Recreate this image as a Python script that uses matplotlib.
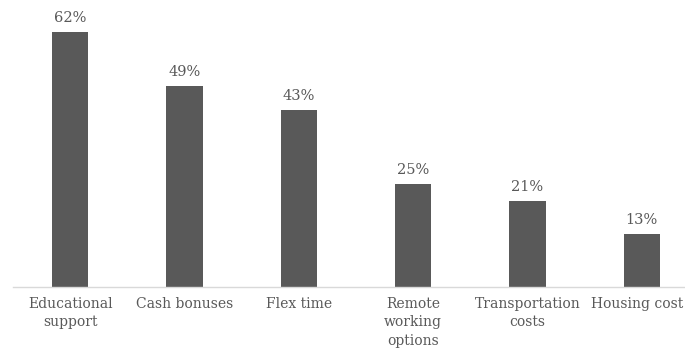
import matplotlib.pyplot as plt
import matplotlib.transforms as mtransforms

categories = ['Educational\nsupport', 'Cash bonuses', 'Flex time',
              'Remote\nworking\noptions', 'Transportation\ncosts', 'Housing cost']
values = [62, 49, 43, 25, 21, 13]

bar_color = '#595959'
text_color = '#595959'

plt.rcParams['font.family'] = ['DejaVu Serif']

fig = plt.figure(figsize=(6.85, 3.53), dpi=100)
# axes runs a little past the right edge, as in the reference
ax = fig.add_axes([13 / 685, 1 - 287 / 353, 686 / 685, 69 * 4.11 / 353])

x = range(len(categories))
bars = ax.bar(x, values, width=0.315, color=bar_color)

for b, v in zip(bars, values):
    ax.annotate(f'{v}%', (b.get_x() + b.get_width() / 2, v),
                xytext=(0, 5), textcoords='offset points',
                ha='center', va='bottom', fontsize=10.5, color=text_color)

ax.set_xlim(-0.5, len(categories) - 0.5)
ax.set_ylim(0, 69)
ax.set_xticks(list(x))
ax.set_xticklabels(categories, fontsize=10, color=text_color, linespacing=1.4)
ax.tick_params(axis='x', length=0, pad=7)
ax.set_yticks([])

# last label sits a bit left so it stays inside the picture
last = ax.get_xticklabels()[-1]
last.set_transform(last.get_transform() + mtransforms.ScaledTranslation(-5 / 100, 0, fig.dpi_scale_trans))

for s in ['top', 'right', 'left']:
    ax.spines[s].set_visible(False)
ax.spines['bottom'].set_color('#d9d9d9')
ax.spines['bottom'].set_linewidth(1)

fig.savefig('out.png', dpi=100)
